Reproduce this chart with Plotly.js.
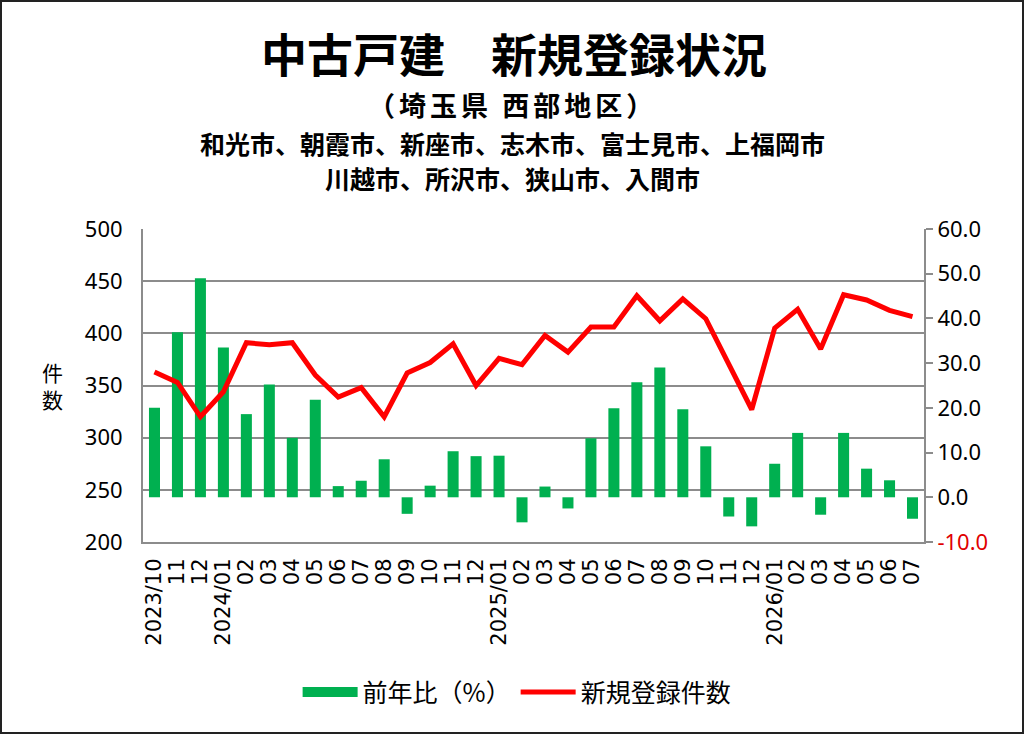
<!DOCTYPE html>
<html>
<head>
<meta charset="utf-8">
<script src="https://cdn.plot.ly/plotly-3.0.1.min.js"></script>
<style>
  body { margin: 0; background: #fff; }
  #wrap { position: relative; width: 1024px; height: 734px; }
  #chart_usedHouse { width: 1024px; height: 734px; }
  #frame {
    position: absolute; left: 0; top: 0; width: 1024px; height: 734px;
    box-sizing: border-box; border: 2px solid #222; pointer-events: none;
  }
</style>
</head>
<body>
<div id="wrap">
  <div id="chart_usedHouse"></div>
  <div id="frame"></div>
</div>
<script>
// 月 (カテゴリ)
let months = [
  "2023/10", "2023/11", "2023/12",
  "2024/01", "2024/02", "2024/03", "2024/04", "2024/05", "2024/06",
  "2024/07", "2024/08", "2024/09", "2024/10", "2024/11", "2024/12",
  "2025/01", "2025/02", "2025/03", "2025/04", "2025/05", "2025/06",
  "2025/07", "2025/08", "2025/09", "2025/10", "2025/11", "2025/12",
  "2026/01", "2026/02", "2026/03", "2026/04", "2026/05", "2026/06", "2026/07",
];

let monthLabels = [
  "2023/10", "11", "12",
  "2024/01", "02", "03", "04", "05", "06", "07", "08", "09", "10", "11", "12",
  "2025/01", "02", "03", "04", "05", "06", "07", "08", "09", "10", "11", "12",
  "2026/01", "02", "03", "04", "05", "06", "07",
];

// 前年比(%)
let yoyRate = [
  20.0, 36.9, 49.0,
  33.5, 18.6, 25.2, 13.3, 21.8, 2.5, 3.7, 8.5, -3.7, 2.6, 10.3, 9.2,
  9.3, -5.6, 2.4, -2.5, 13.2, 19.9, 25.7, 29.0, 19.7, 11.4, -4.3, -6.5,
  7.5, 14.4, -3.9, 14.4, 6.4, 3.8, -4.8,
];

// 新規登録件数
let newListings = [
  363, 353, 320,
  344, 391, 389, 391, 360, 339, 348, 320, 362, 372, 390, 350,
  376, 370, 398, 382, 406, 406, 436, 412, 433, 414, 371, 327,
  405, 423, 385, 437, 432, 422, 416,
];

let countTicks = [200, 250, 300, 350, 400, 450, 500];
let rateTicks = [-10, 0, 10, 20, 30, 40, 50, 60];

let cb_chart_usedHouse = function () {
  let trace1 = {
    x: months,
    y: yoyRate,
    name: "前年比（%）",
    type: "bar",
    yaxis: "y",
    marker: { color: "#00b050" },
    showlegend: false,
    hoverinfo: "x+y",
  };

  // legend key only (wide green box like the original)
  let trace1_key = {
    x: [null],
    y: [null],
    name: "前年比（%）",
    type: "scatter",
    mode: "lines",
    yaxis: "y",
    line: { color: "#00b050", width: 16 },
    hoverinfo: "skip",
  };

  let trace2 = {
    x: months,
    y: newListings,
    name: "新規登録件数",
    type: "scatter",
    mode: "lines",
    yaxis: "y2",
    line: { color: "#ff0000", width: 5 },
    hoverinfo: "x+y",
  };

  let data = [trace1, trace1_key, trace2];

  // 右軸: マイナスは赤
  let rateText = rateTicks.map(function (v) {
    let s = v.toFixed(1);
    return v < 0 ? '<span style="color:#e00000">' + s + "</span>" : s;
  });

  let cjk = '"Noto Sans CJK JP", "Noto Sans", sans-serif';
  let titleFont = { family: cjk, size: 25, color: "#000", weight: "bold" };

  let layout = {
    width: 1024,
    height: 734,
    margin: { l: 143, r: 100, t: 229, b: 192, pad: 0 },
    paper_bgcolor: "#fff",
    plot_bgcolor: "#fff",
    font: { family: cjk, color: "#000" },

    // Legende
    showlegend: true,
    legend: {
      orientation: "h",
      xref: "container",
      yref: "container",
      x: 0.505,
      xanchor: "center",
      y: 0.057,
      yanchor: "middle",
      font: { family: cjk, size: 25, color: "#000" },
      itemwidth: 55,
      traceorder: "normal",
    },

    xaxis: {
      type: "category",
      tickmode: "array",
      tickvals: months,
      ticktext: monthLabels,
      tickangle: -90,
      tickfont: { family: "DejaVu Sans", size: 21, color: "#000" },
      ticks: "",
      ticklabelstandoff: 6,
      showline: true,
      linecolor: "#8c8c8c",
      linewidth: 2,
      showgrid: false,
      zeroline: false,
    },
    // 前年比 (右軸)
    yaxis: {
      side: "right",
      range: [-10, 60],
      tickmode: "array",
      tickvals: rateTicks,
      ticktext: rateText,
      tickfont: { family: "Noto Sans", size: 22, color: "#000" },
      ticks: "outside",
      ticklen: 7,
      tickwidth: 2,
      tickcolor: "#8c8c8c",
      showline: true,
      linecolor: "#8c8c8c",
      linewidth: 2,
      showgrid: false,
      zeroline: false,
    },
    // 件数 (左軸)
    yaxis2: {
      overlaying: "y",
      side: "left",
      range: [200, 500],
      tickmode: "array",
      tickvals: countTicks,
      tickfont: { family: "Noto Sans", size: 22, color: "#000" },
      ticks: "",
      ticklabelstandoff: 14,
      showline: true,
      linecolor: "#8c8c8c",
      linewidth: 2,
      showgrid: true,
      gridcolor: "#8c8c8c",
      gridwidth: 2,
      zeroline: false,
    },

    bargap: 0.52,

    annotations: [
      {
        text: "中古戸建　新規登録状況",
        xref: "paper", yref: "paper", x: 0.4745, y: 1.566,
        xanchor: "center", yanchor: "middle",
        showarrow: false,
        font: { family: cjk, size: 46, color: "#000", weight: "bold" },
      },
      {
        text: '<span style="letter-spacing:4px">（埼玉県 西部地区）</span>',
        xref: "paper", yref: "paper", x: 0.4725, y: 1.397,
        xanchor: "center", yanchor: "middle",
        showarrow: false,
        font: { family: cjk, size: 27, color: "#000", weight: "bold" },
      },
      {
        text: "和光市、朝霞市、新座市、志木市、富士見市、上福岡市",
        xref: "paper", yref: "paper", x: 0.4725, y: 1.275,
        xanchor: "center", yanchor: "middle",
        showarrow: false,
        font: titleFont,
      },
      {
        text: "川越市、所沢市、狭山市、入間市",
        xref: "paper", yref: "paper", x: 0.4725, y: 1.163,
        xanchor: "center", yanchor: "middle",
        showarrow: false,
        font: titleFont,
      },
      {
        text: "件<br>数",
        xref: "paper", yref: "paper", x: -0.1165, y: 0.501,
        xanchor: "center", yanchor: "middle",
        showarrow: false,
        font: { family: cjk, size: 21, color: "#000" },
      },
    ],
  };
  // end layout

  let config = {
    responsive: false,
    displayModeBar: false,
    displaylogo: false,
  };

  Plotly.newPlot("chart_usedHouse", data, layout, config);
};

cb_chart_usedHouse();
</script>
</body>
</html>
